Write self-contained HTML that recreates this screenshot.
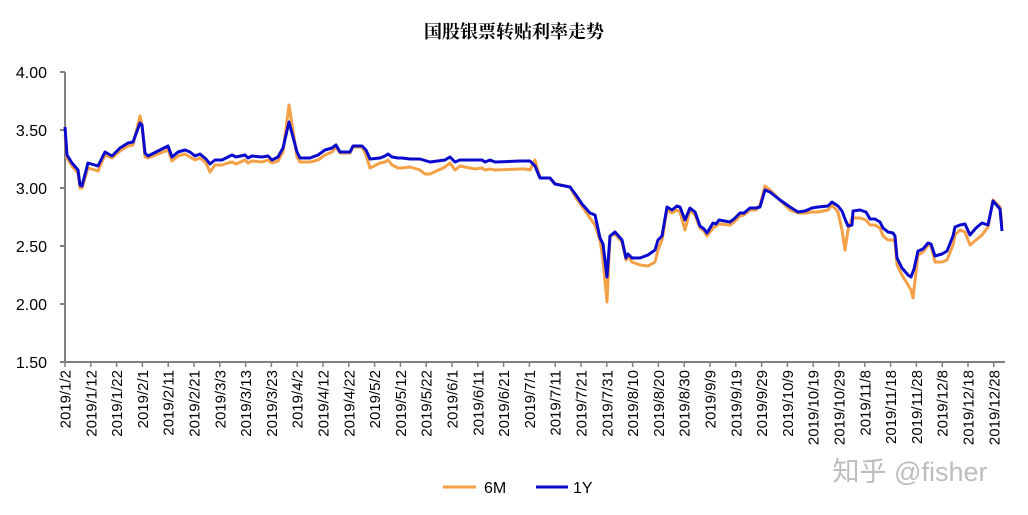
<!DOCTYPE html>
<html><head><meta charset="utf-8"><style>
html,body{margin:0;padding:0;background:#fff;}
svg{display:block;}
</style></head><body>
<svg width="1028" height="515" viewBox="0 0 1028 515" xmlns="http://www.w3.org/2000/svg">
<text x="514" y="38" text-anchor="middle" font-family="'Noto Serif CJK SC','Noto Sans CJK SC',serif" font-weight="bold" font-size="18" fill="#000">国股银票转贴利率走势</text>
<g font-family="'Liberation Sans',sans-serif" font-size="16" fill="#000" text-anchor="end">
<text x="47" y="78">4.00</text><text x="47" y="136">3.50</text><text x="47" y="194">3.00</text>
<text x="47" y="252">2.50</text><text x="47" y="310">2.00</text><text x="47" y="368">1.50</text>
</g>
<g stroke="#808080" stroke-width="2" fill="none">
<line x1="65" y1="72" x2="65" y2="363"/>
<line x1="64" y1="362" x2="1005" y2="362"/>
<line x1="60" y1="72" x2="65" y2="72"/><line x1="60" y1="130" x2="65" y2="130"/><line x1="60" y1="188" x2="65" y2="188"/>
<line x1="60" y1="246" x2="65" y2="246"/><line x1="60" y1="304" x2="65" y2="304"/><line x1="60" y1="362" x2="65" y2="362"/>
</g>
<g id="ticks" stroke="#808080" stroke-width="1.5"></g>
<g id="xl" font-family="'Liberation Sans',sans-serif" font-size="15" fill="#000"></g>
<polyline fill="none" stroke="#F4A046" stroke-width="3" stroke-linejoin="round" points="65,135 67,158 72,166 78,173 80,188 82,188 88,168 98,171 105,155 112,158 120,151 128,146 133,145 140,116 142,125 145,157 148,158 168,150 172,161 178,156 185,154 190,157 195,160 200,158 206,163 210,172 215,165 222,165 228,163 232,162 236,164 245,160 248,163 252,161 262,162 268,160 272,163 278,161 283,152 289,105 297,157 300,162 310,162 318,160 325,155 332,152 336,147 340,153 350,153 353,147 362,147 366,155 370,168 380,163 385,162 388,160 392,165 398,168 402,168 410,167 420,170 425,174 430,174 445,167 450,163 455,170 460,166 475,169 482,168 485,170 490,169 495,170 520,169 525,169 530,170 535,160 540,178 545,178 550,178 555,184 565,186 570,187 576,198 582,206 590,218 595,225 600,240 603,260 607,302 610,236 615,234 622,242 626,260 628,256 632,262 640,265 648,266 655,262 658,250 662,240 667,210 672,213 677,210 680,212 685,230 690,210 695,215 700,228 704,231 707,236 713,228 716,226 719,224 730,225 734,222 740,216 744,215 750,210 756,210 760,205 765,186 770,190 780,200 790,210 798,213 805,213 812,212 818,212 828,210 832,205 838,212 842,230 845,250 848,230 852,218 860,218 866,220 870,225 875,225 880,228 883,236 888,240 893,240 895,242 897,265 902,275 908,285 911,290 913,298 918,255 923,252 928,245 931,246 935,262 942,262 947,260 953,245 955,235 960,230 965,232 970,245 976,240 982,235 988,227 993,200 1000,207 1002,225"/>
<polyline fill="none" stroke="#0A0ACC" stroke-width="3" stroke-linejoin="round" points="65,127 67,155 72,163 78,170 80,185 82,186 88,163 98,166 105,152 112,156 120,148 128,143 133,142 140,123 142,125 145,153 148,156 168,146 172,157 178,152 185,150 190,152 195,156 200,154 206,159 210,164 215,160 222,160 228,157 232,155 236,157 245,155 248,158 252,156 262,157 268,156 272,160 278,157 283,148 289,122 297,152 300,158 310,158 318,155 325,150 332,148 336,145 340,152 350,152 353,146 362,146 366,150 370,159 380,158 385,156 388,154 392,157 398,158 402,158 410,159 420,159 430,162 445,160 450,157 455,162 460,160 475,160 482,160 485,162 490,160 495,162 520,161 525,161 530,161 535,166 540,178 545,178 550,178 555,184 565,186 570,187 576,195 582,204 590,213 595,215 600,238 603,244 607,277 610,236 615,232 622,240 626,258 628,254 632,258 640,258 648,255 655,250 658,240 662,236 667,207 672,210 677,206 680,207 685,220 690,208 695,212 700,226 704,229 707,233 713,223 716,224 719,220 730,222 734,219 740,213 744,213 750,208 756,208 760,207 765,190 770,192 780,200 790,207 798,212 805,211 812,208 818,207 828,206 832,202 838,206 842,211 845,219 848,226 852,225 853,211 860,210 866,212 870,219 875,219 880,222 883,228 888,232 893,233 895,236 897,258 902,268 908,275 911,277 914,269 918,251 923,249 928,243 931,244 935,256 942,254 947,251 953,236 955,227 960,225 965,224 970,235 976,228 982,223 988,225 993,201 1000,209 1002,231"/>
<text x="910" y="481" text-anchor="middle" font-family="'Liberation Sans','Noto Sans CJK SC',sans-serif" font-size="27" fill="#bdbdbd">知乎 @fisher</text>
<line x1="443" y1="487" x2="476" y2="487" stroke="#F4A046" stroke-width="3"/>
<text x="484" y="493" font-family="'Liberation Sans',sans-serif" font-size="16" fill="#000">6M</text>
<line x1="536" y1="487" x2="568" y2="487" stroke="#0A0ACC" stroke-width="3"/>
<text x="573" y="493" font-family="'Liberation Sans',sans-serif" font-size="16" fill="#000">1Y</text>
</svg>
<script>
var L=["1/2","1/12","1/22","2/1","2/11","2/21","3/3","3/13","3/23","4/2","4/12","4/22","5/2","5/12","5/22","6/1","6/11","6/21","7/1","7/11","7/21","7/31","8/10","8/20","8/30","9/9","9/19","9/29","10/9","10/19","10/29","11/8","11/18","11/28","12/8","12/18","12/28"];
var ns="http://www.w3.org/2000/svg",t=document.getElementById("ticks"),g=document.getElementById("xl");
L.forEach(function(s,i){var x=65+i*25.8;
var l=document.createElementNS(ns,"line");l.setAttribute("x1",x);l.setAttribute("x2",x);l.setAttribute("y1",362);l.setAttribute("y2",367);t.appendChild(l);
var e=document.createElementNS(ns,"text");e.setAttribute("text-anchor","end");e.setAttribute("transform","translate("+(x+5.5)+",370) rotate(-90)");e.textContent="2019/"+s;g.appendChild(e);});
</script>
</body></html>
